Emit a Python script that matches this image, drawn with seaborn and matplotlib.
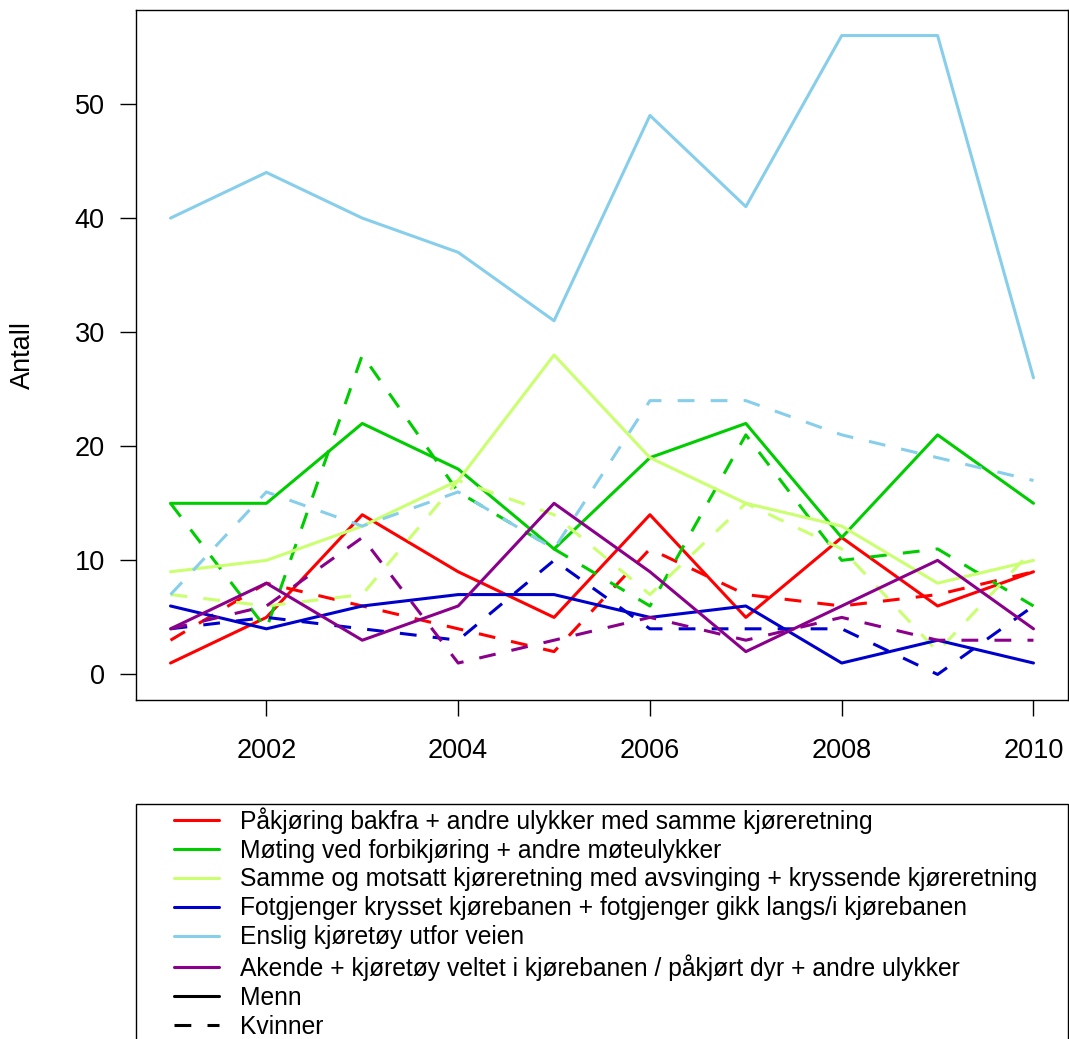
import pandas as pd
import matplotlib
matplotlib.use("Agg")
import matplotlib.pyplot as plt
import seaborn as sns
from matplotlib.lines import Line2D
from matplotlib.legend_handler import HandlerLine2D

years = list(range(2001, 2011))

categories = [
    "Påkjøring bakfra + andre ulykker med samme kjøreretning",
    "Møting ved forbikjøring + andre møteulykker",
    "Samme og motsatt kjøreretning med avsvinging + kryssende kjøreretning",
    "Fotgjenger krysset kjørebanen + fotgjenger gikk langs/i kjørebanen",
    "Enslig kjøretøy utfor veien",
    "Akende + kjøretøy veltet i kjørebanen / påkjørt dyr + andre ulykker",
]
colors = ["#FF0000", "#00CD00", "#CAFF70", "#0000CD", "#87CEEB", "#8B008B"]

# Menn (solid)
menn = [
    [1, 5, 14, 9, 5, 14, 5, 12, 6, 9],
    [15, 15, 22, 18, 11, 19, 22, 12, 21, 15],
    [9, 10, 13, 17, 28, 19, 15, 13, 8, 10],
    [6, 4, 6, 7, 7, 5, 6, 1, 3, 1],
    [40, 44, 40, 37, 31, 49, 41, 56, 56, 26],
    [4, 8, 3, 6, 15, 9, 2, 6, 10, 4],
]
# Kvinner (dashed)
kvinner = [
    [3, 8, 6, 4, 2, 11, 7, 6, 7, 9],
    [15, 4, 28, 16, 11, 6, 21, 10, 11, 6],
    [7, 6, 7, 17, 14, 7, 15, 11, 2, 11],
    [4, 5, 4, 3, 10, 4, 4, 4, 0, 6],
    [7, 16, 13, 16, 11, 24, 24, 21, 19, 17],
    [4, 6, 12, 1, 3, 5, 3, 5, 3, 3],
]

rows = []
for cat, m, k in zip(categories, menn, kvinner):
    for yr, a, b in zip(years, m, k):
        rows.append({"År": yr, "Type": cat, "Kjønn": "Menn", "Antall": a})
        rows.append({"År": yr, "Type": cat, "Kjønn": "Kvinner", "Antall": b})
df = pd.DataFrame(rows)

sns.set_style("white")
plt.rcParams["font.family"] = ["Liberation Sans", "DejaVu Sans"]
plt.rcParams["text.color"] = "black"

W, H = 1069, 1039
fig = plt.figure(figsize=(W / 100, H / 100), dpi=100)
ax = fig.add_axes([136 / W, 1 - 700 / H, (1068 - 136) / W, (700 - 10) / H])

lw = 2.2
dash = (5.5, 5.3)
sns.lineplot(data=df, x="År", y="Antall", hue="Type", style="Kjønn",
             hue_order=categories, palette=colors,
             style_order=["Menn", "Kvinner"], dashes={"Menn": "", "Kvinner": dash},
             linewidth=lw, legend=False, ax=ax, estimator=None)
for ln in ax.get_lines():
    ln.set_dash_capstyle("butt")

ax.set_xlim(2000.64, 2010.36)
ax.set_ylim(-2.24, 58.24)
ax.set_xticks([2002, 2004, 2006, 2008, 2010])
ax.set_yticks([0, 10, 20, 30, 40, 50])
ax.tick_params(axis="both", direction="out", length=11.5, width=1, colors="black",
               labelsize=19.5, bottom=True, left=True)
ax.tick_params(axis="x", pad=15.5)
ax.tick_params(axis="y", pad=11)
ax.set_xlabel("")
ax.set_ylabel("")
for sp in ax.spines.values():
    sp.set_color("black")
    sp.set_linewidth(1)
    sp.set_visible(True)

fig.text(23 / W, 1 - 355 / H, "Antall", rotation=90, ha="center", va="center",
         fontsize=19.5, color="black")

handles = [Line2D([], [], color=c, lw=lw) for c in colors]
handles += [Line2D([], [], color="black", lw=lw),
            Line2D([], [], color="black", lw=lw, dashes=dash, dash_capstyle="butt")]
labels = categories + ["Menn", "Kvinner"]
fs = 17.7
leg = fig.legend(handles, labels, loc="upper left",
                 bbox_to_anchor=(136 / W, 0, (1068 - 136) / W, 1 - 804 / H),
                 mode="expand", borderaxespad=0, fontsize=fs, frameon=True,
                 fancybox=False, edgecolor="black", borderpad=0.12,
                 labelspacing=0.2, handlelength=3.25, handletextpad=0.85,
                 labelcolor="black",
                 handler_map={Line2D: HandlerLine2D(xpad=1.43)})
leg.get_frame().set_linewidth(1)
leg.get_frame().set_alpha(1)

fig.savefig("out.png", dpi=100)
